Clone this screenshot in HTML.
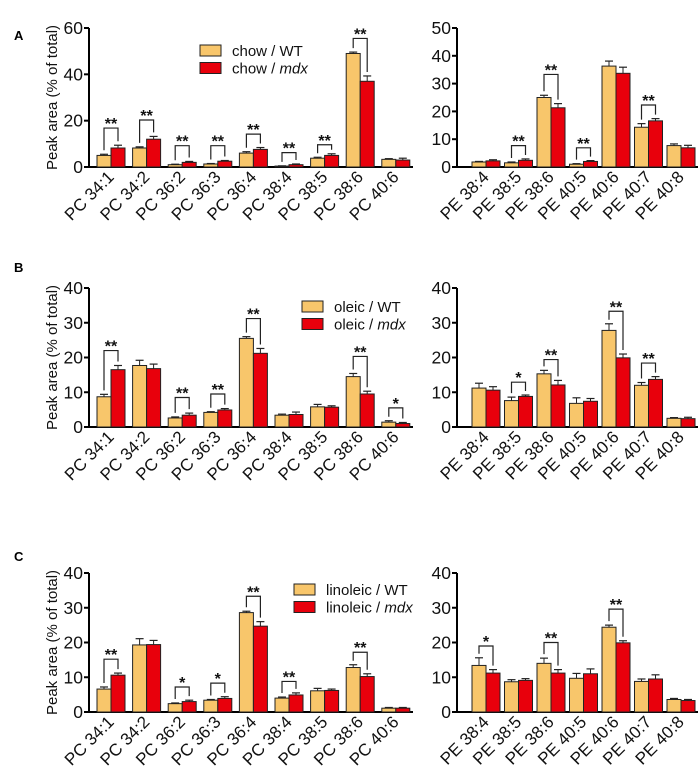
<!DOCTYPE html>
<html><head><meta charset="utf-8">
<style>
html,body{margin:0;padding:0;background:#fff;}
svg{display:block;font-family:"Liberation Sans",Arial,sans-serif;}
</style></head>
<body>
<svg id="fig" width="700" height="767" viewBox="0 0 700 767" xmlns="http://www.w3.org/2000/svg">
<text x="14" y="40" font-size="13" font-weight="bold">A</text>
<text x="14" y="272" font-size="13" font-weight="bold">B</text>
<text x="14" y="561" font-size="13" font-weight="bold">C</text>
</svg>
<script>
const pcCats = ["PC 34:1","PC 34:2","PC 36:2","PC 36:3","PC 36:4","PC 38:4","PC 38:5","PC 38:6","PC 40:6"];
const peCats = ["PE 38:4","PE 38:5","PE 38:6","PE 40:5","PE 40:6","PE 40:7","PE 40:8"];

const aPcWT = [5,8.2,1,1.3,6,0.4,3.8,49,3.3];
const aPcWTErr = [0.5,0.5,0.2,0.2,0.6,0.1,0.4,0.6,0.3];
const aPcMdx = [8.2,12,2,2.5,7.6,1,5,37,3];
const aPcMdxErr = [1.2,1.2,0.4,0.3,0.8,0.3,0.7,2.3,0.8];
const aPcSig = [[0,"**",16.8],[1,"**",20.3],[2,"**",9.2],[3,"**",9.2],[4,"**",14.2],[5,"**",6.2],[6,"**",9.6],[7,"**",55.5]];
const aPeWT = [1.8,1.5,25,1,36.3,14.3,7.7];
const aPeWTErr = [0.2,0.3,0.8,0.2,1.8,1.3,0.6];
const aPeMdx = [2.2,2.4,21.3,2,33.7,16.6,6.9];
const aPeMdxErr = [0.4,0.5,1.5,0.3,2.2,0.8,0.9];
const aPeSig = [[1,"**",7.7],[2,"**",33.3],[3,"**",6.9],[5,"**",22.3]];

const bPcWT = [8.7,17.7,2.6,4.2,25.5,3.4,5.8,14.5,1.4];
const bPcWTErr = [0.7,1.5,0.3,0.2,0.5,0.3,0.7,0.9,0.4];
const bPcMdx = [16.5,16.8,3.4,4.9,21.2,3.6,5.7,9.5,1];
const bPcMdxErr = [1.2,1.3,0.6,0.4,1.4,0.7,0.4,0.8,0.3];
const bPcSig = [[0,"**",22],[2,"**",8.5],[3,"**",9.5],[4,"**",31.2],[7,"**",20.3],[8,"*",5.5]];
const bPeWT = [11.2,7.6,15.3,6.8,27.8,12,2.5];
const bPeWTErr = [1.4,1,1,1.6,1.9,0.8,0.2];
const bPeMdx = [10.6,8.8,12.1,7.4,19.9,13.7,2.4];
const bPeMdxErr = [1,0.4,1.3,0.8,1.1,0.8,0.4];
const bPeSig = [[1,"*",12.9],[2,"**",19.4],[4,"**",33.3],[5,"**",18.4]];

const cPcWT = [6.6,19.3,2.4,3.4,28.6,4,6.1,12.8,1.1];
const cPcWTErr = [0.6,1.8,0.2,0.2,0.4,0.3,0.7,0.8,0.2];
const cPcMdx = [10.6,19.4,3,3.9,24.7,4.9,6.2,10.2,1.1];
const cPcMdxErr = [0.6,1.2,0.4,0.5,1.3,0.6,0.4,0.8,0.2];
const cPcSig = [[0,"**",15.2],[2,"*",7.2],[3,"*",8.3],[4,"**",33.3],[5,"**",8.8],[7,"**",17.2]];
const cPeWT = [13.4,8.7,14,9.7,24.4,8.8,3.6];
const cPeWTErr = [2.2,0.6,1.5,1.4,0.6,0.7,0.3];
const cPeMdx = [11.2,9.1,11.2,11,19.9,9.5,3.3];
const cPeMdxErr = [1,0.5,1,1.4,0.6,1.2,0.3];
const cPeSig = [[0,"*",19],[2,"**",20],[4,"**",29.6]];

const ticks60 = [0,20,40,60];
const ticks50 = [0,10,20,30,40,50];
const ticks40 = [0,10,20,30,40];

const NS = "http://www.w3.org/2000/svg";
const svg = document.getElementById("fig");
function mk(tag, attrs, parent){ const e=document.createElementNS(NS,tag); for(const k in attrs) e.setAttribute(k,attrs[k]); (parent||svg).appendChild(e); return e; }

function panel(o){
  const g = mk("g",{});
  
  
  const ymax = o.ticks[o.ticks.length-1];
  const y = v => o.y0 - v/ymax*(o.y0-o.yTop);
  const bx = i => o.x0 + i*o.step;
  const ya = mk("line",{x1:o.ax,y1:o.yTop,x2:o.ax,y2:o.y0+1,stroke:"#000","stroke-width":2},g);
  
  
  const xa = mk("line",{x1:o.ax-1,y1:o.y0,x2:o.axEnd,y2:o.y0,stroke:"#000","stroke-width":2},g);
  
  
  o.ticks.forEach(t=>{
    mk("line",{x1:o.ax-5,y1:y(t),x2:o.ax,y2:y(t),stroke:"#000","stroke-width":2},g);
    const tl = mk("text",{x:o.ax-6,y:y(t)+6,"font-size":17.5,"text-anchor":"end",fill:"#111"},g);
    tl.textContent = t;
    
    
  });
  if(o.ytitle){
    const yt = mk("text",{x:0,y:0,"font-size":15,"text-anchor":"middle",transform:`translate(57,${(o.y0+o.yTop)/2}) rotate(-90)`,fill:"#111"},g);
    yt.textContent = "Peak area (% of total)";
    
    
  }
  const W = o.bw;
  o.cats.forEach((c,i)=>{
    const x = bx(i);
    [[o.wt,o.wtErr,"#F8C66B",x],[o.mdx,o.mdxErr,"#E8000C",x+W]].forEach(([arr,err,col,xx],s)=>{
      const v = arr[i];
      const r = mk("rect",{x:xx,y:y(v),width:W,height:o.y0-y(v),fill:col,stroke:"#222","stroke-width":1},g);
      
      
      const cx = xx+W/2, e = err[i];
      mk("line",{x1:cx,y1:y(v+e),x2:cx,y2:y(v),stroke:"#222","stroke-width":1},g);
      mk("line",{x1:cx-4,y1:y(v+e),x2:cx+4,y2:y(v+e),stroke:"#222","stroke-width":1.2},g);
    });
    const lx = x + W + 4, ly = o.y0 + 11;
    const lab = mk("text",{x:lx,y:ly,"font-size":17,"text-anchor":"end",fill:"#111",transform:`rotate(-45 ${lx} ${ly})`},g);
    lab.textContent = c;
    
    
  });
  o.sig.forEach(([i,lab,lev])=>{
    const x = bx(i), xl = x+W/2, xr = x+1.5*W;
    const yl = y(o.wt[i]+o.wtErr[i]) - 4, yr = y(o.mdx[i]+o.mdxErr[i]) - 4, yt = y(lev);
    const p = mk("path",{d:`M${xl},${Math.max(yl,yt+4)} V${yt} H${xr} V${Math.max(yr,yt+4)}`,fill:"none",stroke:"#222","stroke-width":1.2},g);
    
    
    const st = mk("text",{x:x+W,y:yt+1,"font-size":16,"font-weight":"bold","text-anchor":"middle",fill:"#111"},g);
    st.textContent = lab;
    
    
  });
  if(o.legend){
    const L = o.legend;
    [["#F8C66B",L.t1,false],["#E8000C",L.t2,true]].forEach(([col,txt,it],k)=>{
      const yy = L.y + k*17.5;
      const r = mk("rect",{x:L.x,y:yy,width:21,height:11,fill:col,stroke:"#222","stroke-width":1},g);
      
      
      const t = mk("text",{x:L.x+32,y:yy+11,"font-size":15,fill:"#111"},g);
      
      
      if(it){
        t.appendChild(document.createTextNode(txt+" / "));
        const ts = mk("tspan",{"font-style":"italic"},t); ts.textContent = "mdx";
      } else t.textContent = txt + " / WT";
    });
  }
}
const leftCfg = {ax:89,axEnd:413,x0:97,step:35.6,bw:14,cats:pcCats,ytitle:true};
const rightCfg = {ax:457,axEnd:698,x0:472,step:32.5,bw:14,cats:peCats};
panel(Object.assign({},leftCfg,{name:"panel-a-pc",y0:167,yTop:28,ticks:ticks60,wt:aPcWT,wtErr:aPcWTErr,mdx:aPcMdx,mdxErr:aPcMdxErr,sig:aPcSig,legend:{x:200,y:45,t1:"chow",t2:"chow"}}));
panel(Object.assign({},rightCfg,{name:"panel-a-pe",y0:167,yTop:28,ticks:ticks50,wt:aPeWT,wtErr:aPeWTErr,mdx:aPeMdx,mdxErr:aPeMdxErr,sig:aPeSig}));
panel(Object.assign({},leftCfg,{name:"panel-b-pc",y0:427,yTop:288,ticks:ticks40,wt:bPcWT,wtErr:bPcWTErr,mdx:bPcMdx,mdxErr:bPcMdxErr,sig:bPcSig,legend:{x:302,y:301,t1:"oleic",t2:"oleic"}}));
panel(Object.assign({},rightCfg,{name:"panel-b-pe",y0:427,yTop:288,ticks:ticks40,wt:bPeWT,wtErr:bPeWTErr,mdx:bPeMdx,mdxErr:bPeMdxErr,sig:bPeSig}));
panel(Object.assign({},leftCfg,{name:"panel-c-pc",y0:712,yTop:573,ticks:ticks40,wt:cPcWT,wtErr:cPcWTErr,mdx:cPcMdx,mdxErr:cPcMdxErr,sig:cPcSig,legend:{x:294,y:584,t1:"linoleic",t2:"linoleic"}}));
panel(Object.assign({},rightCfg,{name:"panel-c-pe",y0:712,yTop:573,ticks:ticks40,wt:cPeWT,wtErr:cPeWTErr,mdx:cPeMdx,mdxErr:cPeMdxErr,sig:cPeSig}));
</script>
</body></html>
